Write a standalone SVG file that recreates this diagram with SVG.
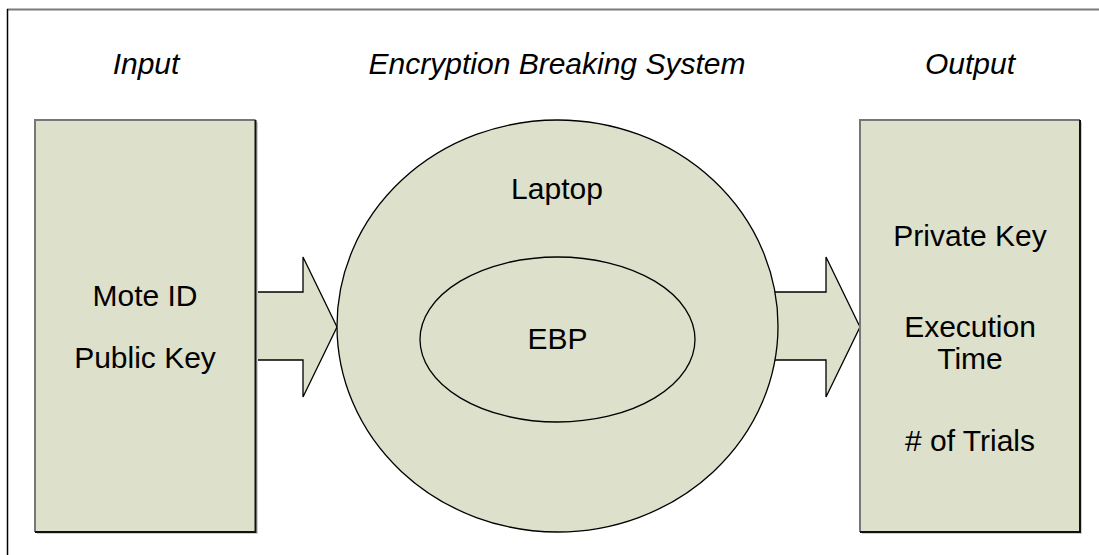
<svg xmlns="http://www.w3.org/2000/svg" width="1099" height="555" viewBox="0 0 1099 555">
<style>
.t{font-family:"Liberation Sans",Arial,sans-serif;font-size:30px;fill:#000;text-anchor:middle}
.i{font-style:italic}
.fill{fill:#dde0ca}
.ln{stroke:#000;stroke-width:1.3;fill:#dde0ca}
</style>
<rect width="1099" height="555" fill="#fff"/>
<g id="frame">
<line x1="7" y1="9.5" x2="1099" y2="9.5" stroke="#7a7a7a" stroke-width="2"/>
<line x1="7.5" y1="9" x2="7.5" y2="555" stroke="#000" stroke-width="1.5"/>
</g>
<g id="titles">
<text class="t i" x="146" y="74">Input</text>
<text class="t i" x="557" y="74">Encryption Breaking System</text>
<text class="t i" x="970" y="74">Output</text>
</g>
<g id="connectors">
<polygon class="ln" points="255,292 303,292 303,257 337,327 303,397 303,360 255,360"/>
<polygon class="ln" points="765,292 826,292 826,257 860,327 826,397 826,360 765,360"/>
</g>
<g id="input">
<rect x="37" y="122" width="221" height="412" fill="#cfcfcf"/>
<rect class="fill" x="35" y="120" width="220.5" height="412"/>
<path d="M35,532 V120 H255.5" fill="none" stroke="#777" stroke-width="2"/>
<path d="M255.5,120 V532 H35" fill="none" stroke="#111" stroke-width="2"/>
<text class="t" x="145" y="306">Mote ID</text>
<text class="t" x="145" y="368">Public Key</text>
</g>
<g id="laptop">
<ellipse class="ln" cx="557.5" cy="326" rx="220.5" ry="206"/>
<text class="t" x="557" y="199">Laptop</text>
</g>
<g id="ebp">
<ellipse class="ln" cx="557.5" cy="339.5" rx="137.5" ry="82.5"/>
<text class="t" x="557.5" y="349">EBP</text>
</g>
<g id="output">
<rect x="862" y="122" width="220" height="412" fill="#cfcfcf"/>
<rect class="fill" x="860" y="120" width="220" height="412"/>
<path d="M860,532 V120 H1080" fill="none" stroke="#777" stroke-width="2"/>
<path d="M1080,120 V532 H860" fill="none" stroke="#111" stroke-width="2"/>
<text class="t" x="970" y="246">Private Key</text>
<text class="t" x="970" y="337">Execution</text>
<text class="t" x="970" y="369">Time</text>
<text class="t" x="970" y="451"># of Trials</text>
</g>
</svg>
